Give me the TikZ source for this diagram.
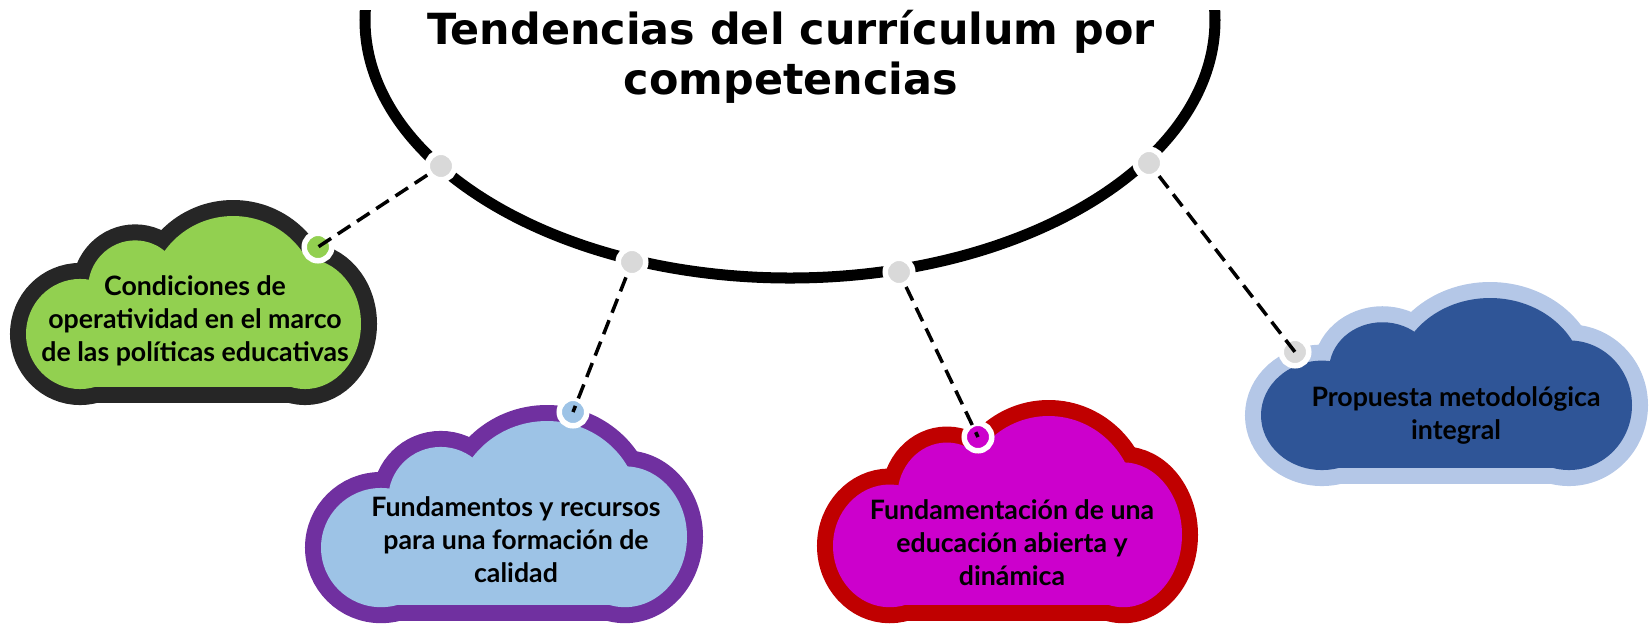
\documentclass[tikz,border=0pt]{standalone}
\usepackage{fontspec}
\setmainfont{Lato}
\newfontfamily\titlefont{DejaVu Sans}
\definecolor{cgreen}{HTML}{92D050}
\definecolor{cdark}{HTML}{262626}
\definecolor{cblue}{HTML}{9DC3E6}
\definecolor{cpurple}{HTML}{7030A0}
\definecolor{cmag}{HTML}{CC00CC}
\definecolor{cred}{HTML}{C00000}
\definecolor{cnavy}{HTML}{2F5597}
\definecolor{csky}{HTML}{B4C7E7}
\definecolor{dotgray}{HTML}{D9D9D9}
\usetikzlibrary{calc}

% cloud: x0, y0, width, height, border colour, fill colour
\newcommand{\cloud}[6]{%
	\foreach \u/\v/\rx/\ry in {0.191/0.66/0.191/0.35, 0.341/0.435/0.172/0.315, 0.608/0.485/0.272/0.485, 0.804/0.61/0.196/0.4}
	\filldraw[#5, line width=3.2mm] ({#1+\u*#3},{#2+\v*#4}) ellipse [x radius={\rx*#3-16}, y radius={\ry*#4-16}];
	\filldraw[#5, line width=3.2mm] ({#1+0.19*#3},{#2+0.45*#4}) rectangle ({#1+0.8*#3},{#2+#4-16});
	%inner fill
	\foreach \u/\v/\rx/\ry in {0.191/0.66/0.191/0.35, 0.341/0.435/0.172/0.315, 0.608/0.485/0.272/0.485, 0.804/0.61/0.196/0.4}
	\fill[#6] ({#1+\u*#3},{#2+\v*#4}) ellipse [x radius={\rx*#3-16}, y radius={\ry*#4-16}];
	\fill[#6] ({#1+0.19*#3},{#2+0.45*#4}) rectangle ({#1+0.8*#3},{#2+#4-16});
}

\begin{document}
\begin{tikzpicture}[x=0.01cm, y=-0.01cm,
	dot/.style={circle, draw=white, line width=0.55mm, inner sep=0pt, minimum size=2.75mm},
	link/.style={line width=0.35mm, dash pattern=on 1.5mm off 0.8mm},
	cloudtext/.style={align=center, font={\fontsize{7.6pt}{9.4pt}\selectfont\bfseries}}]
	\useasboundingbox (0,0) rectangle (1650,623);
	\begin{scope}
		\clip (0,10) rectangle (1650,623);
		\draw[line width=1.1mm] (790,20) ellipse [x radius=425, y radius=258];
	\end{scope}
	\node[align=center, font={\titlefont\fontsize{12.2pt}{14.2pt}\selectfont\bfseries}] (title) at (791,57) {Tendencias del currículum por\\competencias};
	%clouds
	\cloud{10}{200}{367}{203}{cdark}{cgreen}
	\cloud{305}{405}{398}{216}{cpurple}{cblue}
	\cloud{817}{400}{381}{221}{cred}{cmag}
	\cloud{1245}{282}{403}{202}{csky}{cnavy}
	\node[cloudtext] (t1) at (195,321) {Condiciones de\\operatividad en el marco\\de las políticas educativas};
	\node[cloudtext] (t2) at (516,540) {Fundamentos y recursos\\para una formación de\\calidad};
	\node[cloudtext] (t3) at (1012,543) {Fundamentación de una\\educación abierta y\\dinámica};
	\node[cloudtext] (t4) at (1456,415) {Propuesta metodológica\\integral};
	%dots
	\foreach \x/\y [count=\i] in {441/166, 632/262, 899/272, 1149/163}
	\node[dot, fill=dotgray] (e\i) at (\x,\y) {};
	\node[dot, fill=cgreen] (d1) at (318,247) {};
	\node[dot, fill=cblue] (d2) at (573,412) {};
	\node[dot, fill=cmag] (d3) at (978,437) {};
	\node[dot, fill=dotgray] (d4) at (1295,352) {};
	\foreach \i in {1,...,4}
	\draw[link] (e\i) -- (d\i.center);
\end{tikzpicture}
\end{document}
